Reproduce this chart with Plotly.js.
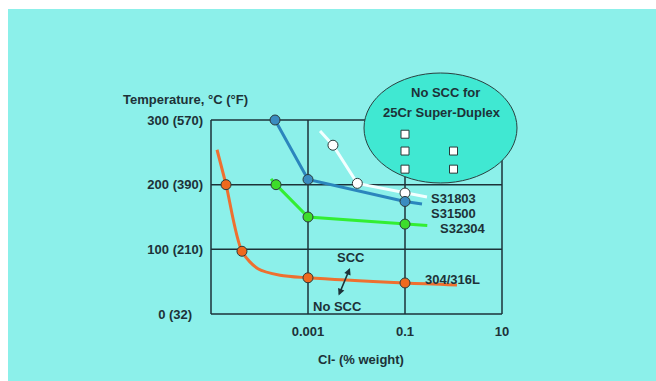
<!DOCTYPE html>
<html>
<head>
<meta charset="utf-8">
<script src="https://cdn.plot.ly/plotly-3.0.1.min.js"></script>
<style>html,body{margin:0;padding:0;background:#fff;}#chart{width:656px;height:381px;}</style>
</head>
<body>
<div id="chart"></div>
<script>
// ---- data ----
const xTickVals = [0.001, 0.1, 10];
const xTickText = ['0.001', '0.1', '10'];
const xGridVals = [0.00001, 0.001, 0.1, 10];
const yTickVals = [0, 100, 200, 300];
const yTickText = ['0 (32)\u00a0\u00a0\u00a0', '100 (210)', '200 (390)', '300 (570)'];

// 304/316L (orange)
const alloy304LineX = [1.33e-5, 2.04e-5, 4.35e-5, 9.3e-5, 2.65e-4, 0.001, 0.1, 1.18];
const alloy304LineY = [254, 200, 97, 70, 60, 56, 48, 45];
const alloy304PtsX = [2.04e-5, 4.35e-5, 0.001, 0.1];
const alloy304PtsY = [200, 97, 56, 48];

// S31500 (blue)
const s31500LineX = [2.09e-4, 0.001, 0.1, 0.224];
const s31500LineY = [300, 208, 174, 170];
const s31500PtsX = [2.09e-4, 0.001, 0.1];
const s31500PtsY = [300, 208, 174];

// S31803 (white)
const s31803LineX = [1.77e-3, 3.27e-3, 0.0104, 0.1, 0.284];
const s31803LineY = [283, 261, 202, 187, 181];
const s31803PtsX = [3.27e-3, 0.0104, 0.1];
const s31803PtsY = [261, 202, 187];

// S32304 (green)
const s32304LineX = [1.73e-4, 2.19e-4, 0.001, 0.1, 0.288];
const s32304LineY = [209, 200, 150, 139, 137];
const s32304PtsX = [2.19e-4, 0.001, 0.1];
const s32304PtsY = [200, 150, 139];

// 25Cr Super-Duplex test points (no SCC)
const superDuplexX = [0.1, 0.1, 0.1, 1, 1];
const superDuplexY = [278, 252, 224, 252, 224];

// ---- geometry / styling ----
const DARK = '#1d3238';
const FONT = 'Liberation Sans, Arial, sans-serif';
const W = 656, H = 381;
const PL = 205, PR = 520, PT = 68, PB = 320;     // plot area (pixels)
const PX_DEC = 48.5, X0PX = 211;                  // px per decade, pixel of 1e-5
const PX_UNIT = 194 / 300, Y0PX = 314;            // px per °C, pixel of 0
const xr = [-5 - (X0PX - PL) / PX_DEC, -5 + (PR - X0PX) / PX_DEC];
const yr = [-(PB - Y0PX) / PX_UNIT, (Y0PX - PT) / PX_UNIT];
const px = x => (x - PL) / (PR - PL);
const py = y => (PB - y) / (PB - PT);
const dx = p => Math.pow(10, -5 + (p - X0PX) / PX_DEC);
const dy = p => (Y0PX - p) / PX_UNIT;

function lineTrace(x, y, color, shape) {
  return {x: x, y: y, mode: 'lines', type: 'scatter', hoverinfo: 'skip',
    line: {color: color, width: 3, shape: shape, smoothing: 0.8}, cliponaxis: false, showlegend: false};
}
function ptsTrace(x, y, color) {
  return {x: x, y: y, mode: 'markers', type: 'scatter', hoverinfo: 'skip', cliponaxis: false, showlegend: false,
    marker: {size: 10, color: color, line: {color: '#2a3a3a', width: 1}}};
}

const traces = [
  lineTrace(alloy304LineX, alloy304LineY, '#ee7030', 'spline'),
  lineTrace(s32304LineX, s32304LineY, '#33ee33', 'linear'),
  lineTrace(s31803LineX, s31803LineY, '#f2ffff', 'linear'),
  lineTrace(s31500LineX, s31500LineY, '#2b86bd', 'linear'),
  ptsTrace(alloy304PtsX, alloy304PtsY, '#ee6a1e'),
  ptsTrace(s32304PtsX, s32304PtsY, '#3ddd2a'),
  ptsTrace(s31803PtsX, s31803PtsY, '#ffffff'),
  ptsTrace(s31500PtsX, s31500PtsY, '#3a8cc0'),
  {x: superDuplexX, y: superDuplexY, mode: 'markers', type: 'scatter', hoverinfo: 'skip', cliponaxis: false, showlegend: false,
    marker: {symbol: 'square', size: 8, color: '#ffffff', line: {color: '#2a3a3a', width: 1}}}
];

const gridShapes = [];
xGridVals.forEach(v => gridShapes.push({type: 'line', xref: 'x', yref: 'y', layer: 'below',
  x0: v, x1: v, y0: yTickVals[0], y1: yTickVals[yTickVals.length - 1],
  line: {color: DARK, width: 1.5}}));
yTickVals.forEach(v => gridShapes.push({type: 'line', xref: 'x', yref: 'y', layer: 'below',
  x0: xGridVals[0], x1: xGridVals[xGridVals.length - 1], y0: v, y1: v,
  line: {color: DARK, width: 1.5}}));

const txt = (text, x, y, xanchor, size) => ({text: text, xref: 'paper', yref: 'paper', x: px(x), y: py(y),
  xanchor: xanchor || 'center', yanchor: 'middle', showarrow: false,
  font: {family: FONT, size: size || 13, color: DARK, weight: 'bold'}});

const tickFont = {family: FONT, size: 13, color: DARK, weight: 'bold'};
const layout = {
  width: W, height: H,
  margin: {l: PL, r: W - PR, t: PT, b: H - PB, pad: 0},
  paper_bgcolor: '#ffffff',
  plot_bgcolor: 'rgba(0,0,0,0)',
  font: {family: FONT, size: 13, color: DARK, weight: 'bold'},
  showlegend: false,
  xaxis: {type: 'log', range: xr, tickvals: xTickVals, ticktext: xTickText,
    showgrid: false, showline: false, zeroline: false,
    ticks: '', ticklabelstandoff: 2, tickfont: tickFont, fixedrange: true},
  yaxis: {range: yr, tickvals: yTickVals, ticktext: yTickText,
    showgrid: false, showline: false, zeroline: false,
    ticks: '', ticklabelstandoff: 1, tickfont: tickFont, fixedrange: true},
  shapes: [
    {type: 'rect', xref: 'paper', yref: 'paper', layer: 'below',
      x0: px(8), x1: px(W + 2), y0: py(H + 2), y1: py(9),
      fillcolor: '#8cf0ea', line: {width: 0}}
  ].concat(gridShapes).concat([
    {type: 'circle', xref: 'x', yref: 'y', layer: 'below',
      x0: dx(364), x1: dx(517), y0: dy(183), y1: dy(73),
      fillcolor: '#40e8d2', line: {color: '#2a4040', width: 1}}
  ]),
  annotations: [
    txt('Temperature, °C (°F)', 121, 99, 'left'),
    txt('Cl- (% weight)', 361, 359),
    txt('No SCC for', 445, 92),
    txt('25Cr Super-Duplex', 442, 112),
    txt('S31803', 429, 199, 'left'),
    txt('S31500', 429, 213, 'left'),
    txt('S32304', 438, 228, 'left'),
    txt('304/316L', 423, 279, 'left'),
    txt('SCC', 351, 257),
    txt('No SCC', 337, 306),
    {text: '', xref: 'paper', yref: 'paper', x: px(350), y: py(268), ax: -12, ay: 29,
      showarrow: true, arrowside: 'end+start', arrowhead: 2, arrowsize: 0.9, arrowwidth: 1.5,
      arrowcolor: DARK, standoff: 0, startstandoff: 0}
  ]
};

Plotly.newPlot('chart', traces, layout, {displayModeBar: false, staticPlot: true});
</script>
</body>
</html>
